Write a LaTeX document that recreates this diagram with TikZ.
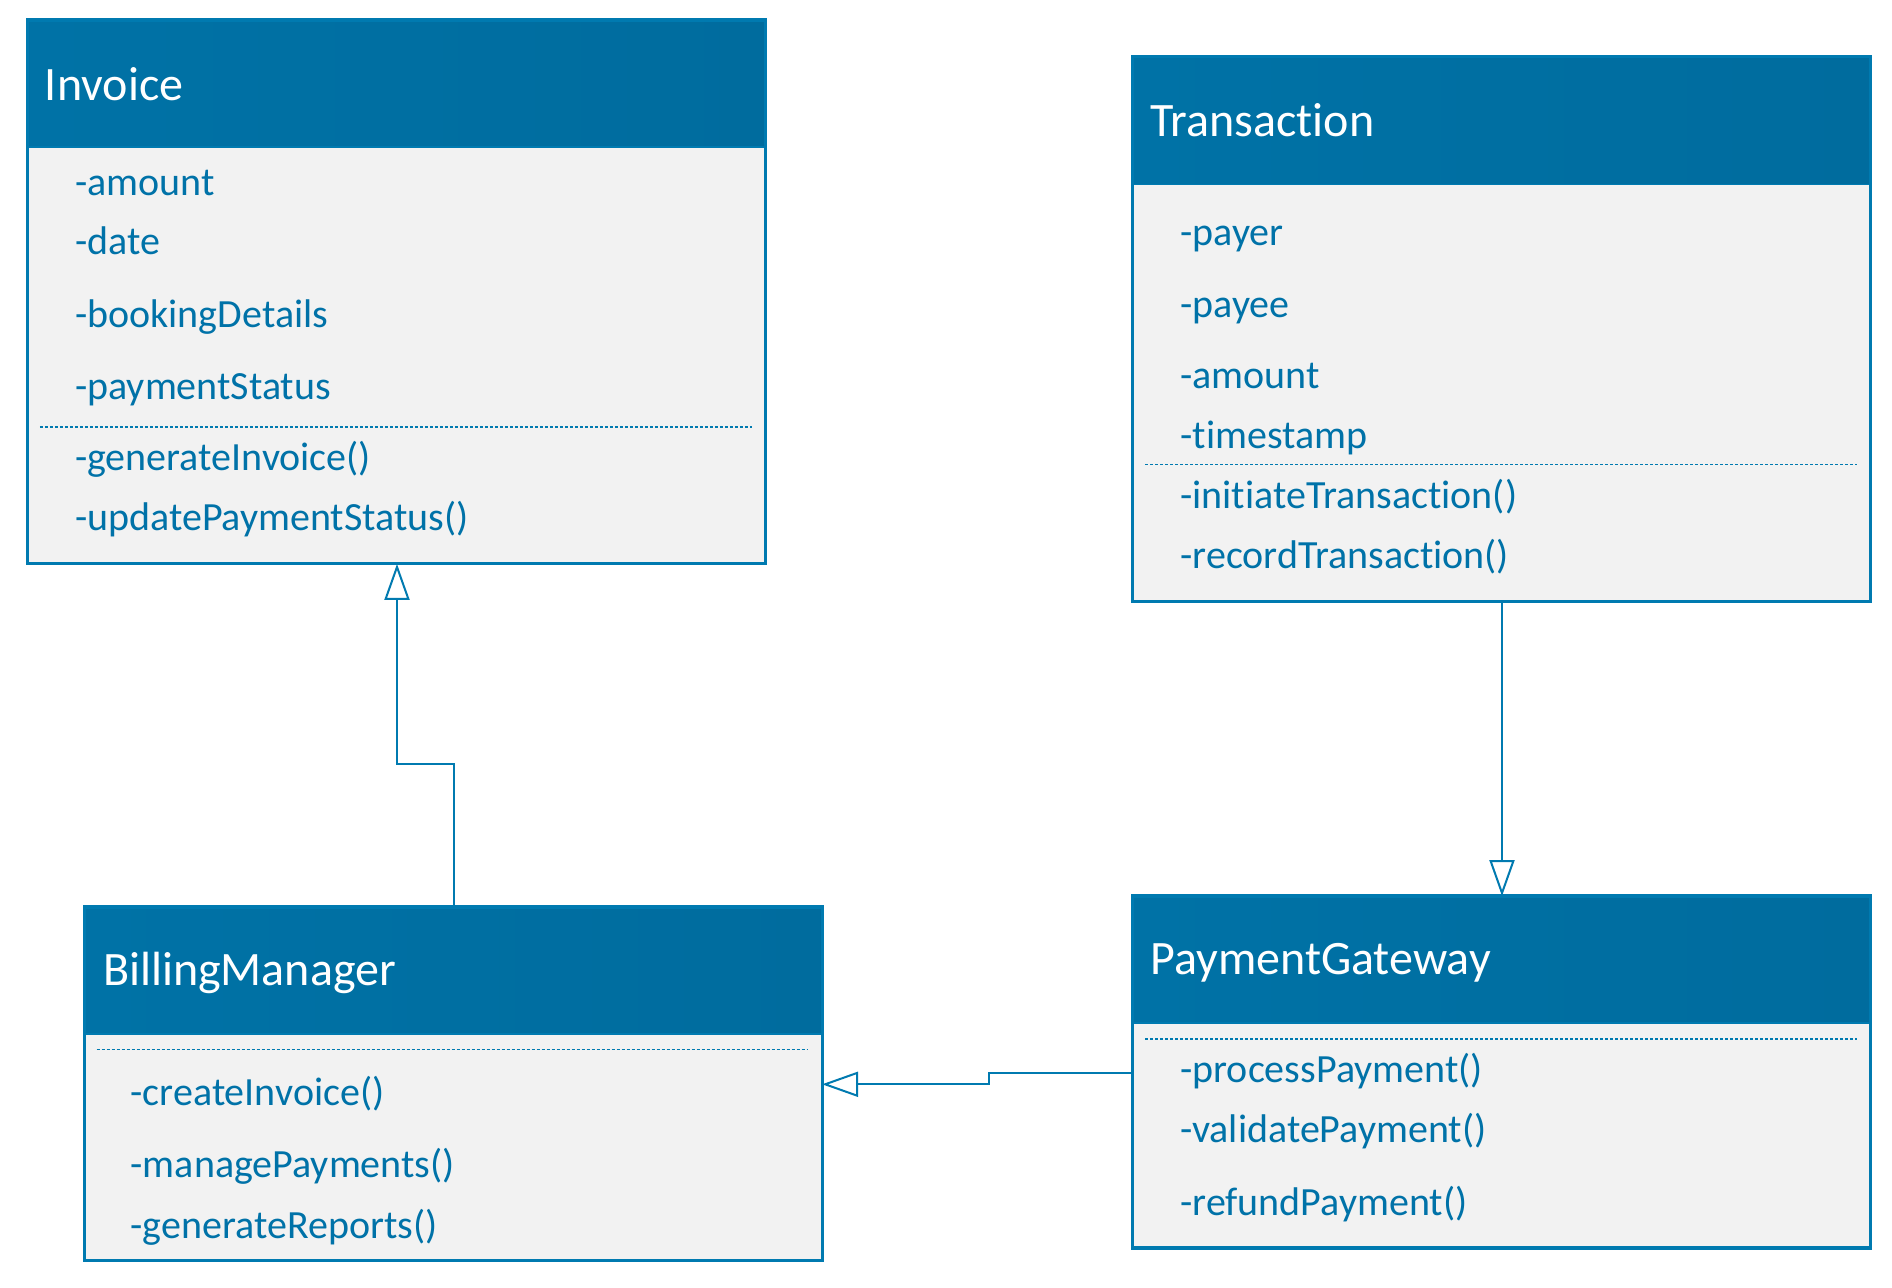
\documentclass[tikz,border=0pt]{standalone}
\usepackage{fontspec}
\setmainfont{Carlito}[Ligatures=CommonOff]
\usetikzlibrary{arrows.meta,fit}
\definecolor{hdrDark}{RGB}{0,114,166}
\definecolor{hdrLight}{RGB}{0,134,194}
\definecolor{hdrRight}{RGB}{0,108,158}
\definecolor{bodyFill}{RGB}{242,242,242}
\definecolor{lineBlue}{RGB}{0,122,176}
\definecolor{txtBlue}{RGB}{0,114,168}
\begin{document}
\begin{tikzpicture}[x=0.5pt,y=-0.5pt,
  classbox/.style={fill=bodyFill, draw=none, rectangle, inner sep=0pt},
  frame/.style={draw=lineBlue, line width=1.6pt},
  hdr/.style={left color=hdrDark, middle color=hdrLight, right color=hdrRight},
  title/.style={anchor=west, inner sep=0pt, yshift=-5.3pt, text=white, font=\fontsize{24pt}{28pt}\selectfont, text height=0.7em, text depth=0.2em},
  member/.style={anchor=west, inner sep=0pt, yshift=-4.2pt, text=txtBlue, font=\fontsize{20pt}{24pt}\selectfont, text height=0.7em, text depth=0.2em},
  sep/.style={draw=lineBlue, line width=0.7pt, dash pattern=on 1.6pt off 0.9pt},
  conn/.style={draw=lineBlue, line width=1pt, -{Triangle[open,fill=white,length=18pt,width=12.5pt]}}
]
\useasboundingbox[fill=white] (0,0) rectangle (1892,1288);

% ---------- Invoice ----------
\node[classbox, fit={(27.8,20.5) (765,563.5)}] (inv) {};
\fill[hdr] (inv.north west) rectangle (765,147.2);
\draw[lineBlue, line width=0.8pt] (inv.west |- 0,147.2) -- (inv.east |- 0,147.2);
\draw[frame] (inv.north west) rectangle (inv.south east);
\node[title] (invT) at (44.6,84.5) {Invoice};
\node[member] (inv1) at (74.8,182.2) {-amount};
\node[member] (inv2) at (74.8,241.3) {-date};
\node[member] (inv3) at (74.8,313.7) {-bookingDetails};
\node[member] (inv4) at (74.8,386.1) {-paymentStatus};
\draw[sep] (39.8,427.1) -- (751.7,427.1);
\node[member] (inv5) at (74.8,457.3) {-generateInvoice()};
\node[member] (inv6) at (74.8,517.6) {-updatePaymentStatus()};

% ---------- Transaction ----------
\node[classbox, fit={(1133,56.7) (1870.2,600.9)}] (tr) {};
\fill[hdr] (tr.north west) rectangle (1870.2,184.6);
\draw[lineBlue, line width=0.8pt] (tr.west |- 0,184.6) -- (tr.east |- 0,184.6);
\draw[frame] (tr.north west) rectangle (tr.south east);
\node[title] (trT) at (1150,120.7) {Transaction};
\node[member] (tr1) at (1180,231.7) {-payer};
\node[member] (tr2) at (1180,304.1) {-payee};
\node[member] (tr3) at (1180,375.3) {-amount};
\node[member] (tr4) at (1180,435.6) {-timestamp};
\draw[sep] (1145,464.5) -- (1857,464.5);
\node[member] (tr5) at (1180,494.7) {-initiateTransaction()};
\node[member] (tr6) at (1180,555) {-recordTransaction()};

% ---------- BillingManager ----------
\node[classbox, fit={(84.5,907.4) (821.7,1259.7)}] (bm) {};
\fill[hdr] (bm.north west) rectangle (821.7,1034);
\draw[lineBlue, line width=0.8pt] (bm.west |- 0,1034) -- (bm.east |- 0,1034);
\draw[frame] (bm.north west) rectangle (bm.south east);
\node[title] (bmT) at (102.6,970) {BillingManager};
\draw[sep] (96.5,1049.7) -- (807.2,1049.7);
\node[member] (bm1) at (130.3,1092) {-createInvoice()};
\node[member] (bm2) at (130.3,1164.4) {-managePayments()};
\node[member] (bm3) at (130.3,1224.7) {-generateReports()};

% ---------- PaymentGateway ----------
\node[classbox, fit={(1133,896.5) (1870.2,1247.6)}] (pg) {};
\fill[hdr] (pg.north west) rectangle (1870.2,1023.2);
\draw[lineBlue, line width=0.8pt] (pg.west |- 0,1023.2) -- (pg.east |- 0,1023.2);
\draw[frame] (pg.north west) rectangle (pg.south east);
\node[title] (pgT) at (1150,959.2) {PaymentGateway};
\draw[sep] (1145,1038.9) -- (1857,1038.9);
\node[member] (pg1) at (1180,1069) {-processPayment()};
\node[member] (pg2) at (1180,1129.4) {-validatePayment()};
\node[member] (pg3) at (1180,1201.8) {-refundPayment()};

% ---------- Connectors ----------
\coordinate (c1) at (453.7,763.8);
\coordinate (c2) at (397,763.8);
\draw[conn] (c1 |- bm.north) -- (c1) -- (c2) -- (c2 |- inv.south);

\coordinate (c3) at (1502,700);
\draw[conn] (c3 |- tr.south) -- (c3 |- pg.north);

\coordinate (c4) at (989.3,1072.7);
\coordinate (c5) at (989.3,1084.3);
\draw[conn] (c4 -| pg.west) -- (c4) -- (c5) -- (c5 -| bm.east);
\end{tikzpicture}
\end{document}
